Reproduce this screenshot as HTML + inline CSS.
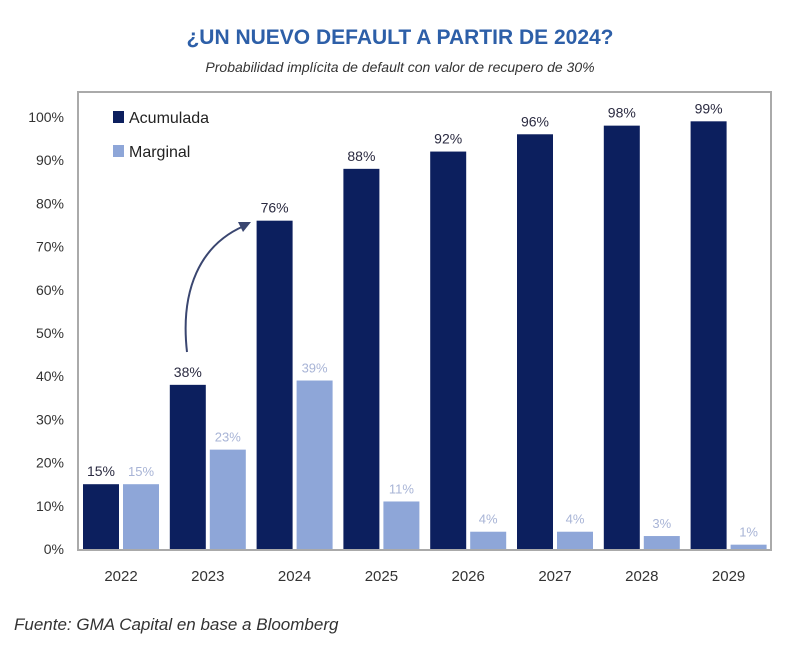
<!DOCTYPE html>
<html><head><meta charset="utf-8"><style>
body{margin:0;background:#fff;width:800px;height:659px;overflow:hidden;font-family:"Liberation Sans",sans-serif}
</style></head><body>
<svg id="chart" width="800" height="659" xmlns="http://www.w3.org/2000/svg">
<text x="400" y="44" text-anchor="middle" font-size="21" font-weight="bold" fill="#2d5fa8">¿UN NUEVO DEFAULT A PARTIR DE 2024?</text>
<text x="400" y="72" text-anchor="middle" font-size="14" font-style="italic" fill="#333">Probabilidad implícita de default con valor de recupero de 30%</text>
<rect x="78" y="92" width="693" height="458" fill="none" stroke="#aaa" stroke-width="2"/>
<g id="yaxis"></g><g id="bars"></g>
<rect x="113" y="111" width="11" height="12" fill="#0c1f5e"/>
<text x="129" y="123" font-size="16" fill="#222">Acumulada</text>
<rect x="113" y="145" width="11" height="12" fill="#8ea6d8"/>
<text x="129" y="157" font-size="16" fill="#222">Marginal</text>
<path d="M187,352 C180,290 200,245 244,226" fill="none" stroke="#3a4670" stroke-width="2"/>
<polygon points="251,222 238,222 243,232" fill="#3a4670"/>
<text x="14" y="630" font-size="17" font-style="italic" fill="#333">Fuente: GMA Capital en base a Bloomberg</text>
</svg>
<script>
const categories=["2022","2023","2024","2025","2026","2027","2028","2029"];
const acumulada=[15,38,76,88,92,96,98,99];
const marginal=[15,23,39,11,4,4,3,1];
const yTicks=[0,10,20,30,40,50,60,70,80,90,100];
const NS="http://www.w3.org/2000/svg";
const y0=549,pxPer=4.32;
function yScale(v){return y0-v*pxPer;}
function xDark(i){return 83+i*86.8;}
function el(tag,attrs,parent,txt){const e=document.createElementNS(NS,tag);for(const k in attrs)e.setAttribute(k,attrs[k]);if(txt!==undefined)e.textContent=txt;parent.appendChild(e);return e;}
const ya=document.getElementById('yaxis'),bg=document.getElementById('bars');
yTicks.forEach(t=>{const e=el('text',{x:64,y:yScale(t)+5,'text-anchor':'end','font-size':14,fill:'#333'},ya,t+'%');

});
categories.forEach((c,i)=>{
 const xd=xDark(i),xl=xd+40,w=36;
 const a=acumulada[i],m=marginal[i];
 const r1=el('rect',{x:xd,y:yScale(a),width:w,height:y0-yScale(a),fill:'#0c1f5e'},bg);
 
 
 const r2=el('rect',{x:xl,y:yScale(m),width:w,height:y0-yScale(m),fill:'#8ea6d8'},bg);
 
 
 const t1=el('text',{x:xd+w/2,y:yScale(a)-8,'text-anchor':'middle','font-size':14,fill:'#2a2a40'},bg,a+'%');
 
 
 const t2=el('text',{x:xl+w/2,y:yScale(m)-8,'text-anchor':'middle','font-size':13,fill:'#a8b4d6'},bg,m+'%');
 
 
 const xt=el('text',{x:xd+38,y:581,'text-anchor':'middle','font-size':15,fill:'#333'},bg,c);
 
 
});
</script>
</body></html>
